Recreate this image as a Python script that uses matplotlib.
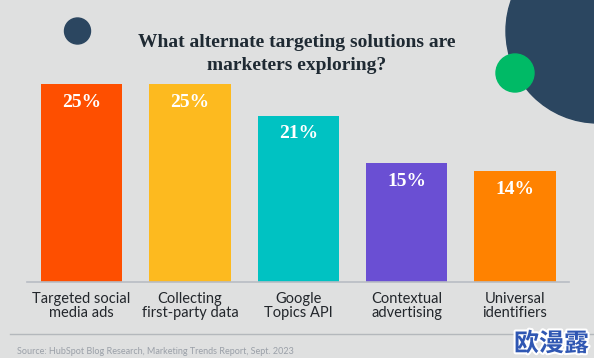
import matplotlib.pyplot as plt
import matplotlib.patheffects as pe
from matplotlib.patches import Circle

# data
categories = ["Targeted social\nmedia ads", "Collecting\nfirst-party data", "Google\nTopics API",
              "Contextual\nadvertising", "Universal\nidentifiers"]
values = [25, 25, 21, 15, 14]
bar_colors = ["#fe4f00", "#fdba1f", "#00c2c2", "#6a4fd3", "#ff8200"]

title = "What alternate targeting solutions are\nmarketers exploring?"
source = "Source: HubSpot Blog Research, Marketing Trends Report, Sept. 2023"

bg = "#dfe0e0"
navy = "#2b4660"

W, H = 594, 358
fig = plt.figure(figsize=(W / 100, H / 100), dpi=100)
fig.patch.set_facecolor(bg)

# decorative circles, drawn in pixel space
deco = fig.add_axes([0, 0, 1, 1], zorder=0)
deco.set_xlim(0, W)
deco.set_ylim(H, 0)
deco.axis("off")
deco.add_patch(Circle((77.5, 31), 13, color=navy))
deco.add_patch(Circle((598, 31), 92, color=navy))
deco.add_patch(Circle((515, 73), 19, color="#00ba66"))
deco.plot([10, W], [334, 334], color="#b4b8bc", lw=1)

# bars
base_y, top_y = 282, 84
ax = fig.add_axes([27.3 / W, (H - base_y) / H, 542 / W, (base_y - top_y) / H], zorder=1)
ax.set_facecolor("none")
xs = range(len(values))
ax.bar(xs, values, width=0.75, color=bar_colors)
ax.set_xlim(-0.5, len(values) - 0.5)
ax.set_ylim(0, 25)
for s in ["top", "right", "left"]:
    ax.spines[s].set_visible(False)
ax.spines["bottom"].set_color("#b8bcc4")
ax.spines["bottom"].set_linewidth(1.2)
ax.set_yticks([])
ax.set_xticks(list(xs))
ax.set_xticklabels(categories, fontsize=10.5, color="#22262b", family="Lato", linespacing=1.05)
ax.tick_params(axis="x", length=0, pad=7)

for x, v in zip(xs, values):
    ax.annotate(f"{v}%", (x, v), xytext=(0, -13), textcoords="offset points",
                ha="center", va="center", color="white", fontsize=14,
                fontweight="bold", family="Liberation Serif")

fig.text(297 / W, 1 - 54 / H, title, ha="center", va="center", fontsize=14,
         fontweight="bold", family="Liberation Serif", color="#1f2a33", linespacing=1.4)
fig.text(17 / W, 1 - 352 / H, source, ha="left", va="center", fontsize=6.5,
         color="#9aa0a8", family="Lato")

# watermark
fig.text(1 - 5 / W, 1 - 344 / H, "欧漫露", ha="right", va="center", fontsize=18,
         fontweight="bold", color="#2f57b3", family=["Noto Sans CJK SC", "DejaVu Sans"],
         path_effects=[pe.withStroke(linewidth=3, foreground="white")])

fig.savefig("out.png", dpi=100, facecolor=bg)
